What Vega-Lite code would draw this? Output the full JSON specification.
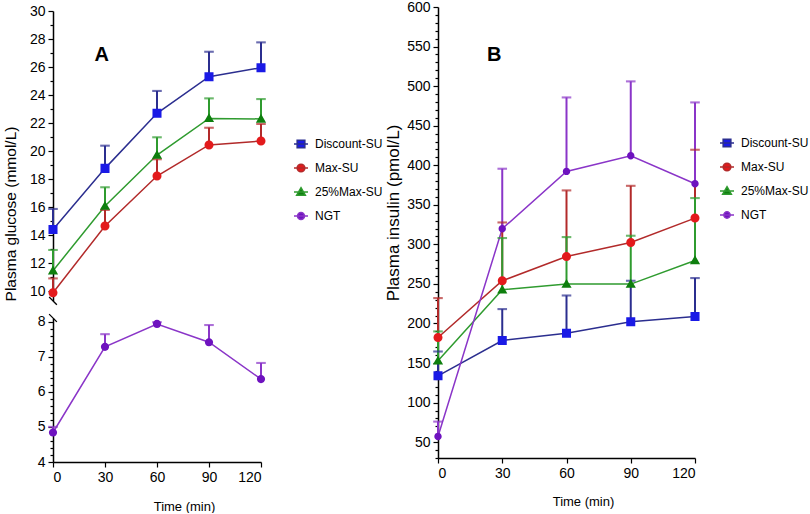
{
  "$schema": "https://vega.github.io/schema/vega-lite/v6.json",
  "padding": {"left": 3, "top": 0, "right": 0, "bottom": 0},
  "bounds": "flush",
  "spacing": 177,
  "background": "white",
  "datasets": {
    "glu": [
      {"g": "Discount-SU", "t": 0, "m": 14.4, "u": 15.86},
      {"g": "Discount-SU", "t": 30, "m": 18.76, "u": 20.38},
      {"g": "Discount-SU", "t": 60, "m": 22.69, "u": 24.29},
      {"g": "Discount-SU", "t": 90, "m": 25.31, "u": 27.09},
      {"g": "Discount-SU", "t": 120, "m": 25.95, "u": 27.76},
      {"g": "Max-SU", "t": 0, "m": 9.88, "u": 10.9},
      {"g": "Max-SU", "t": 30, "m": 14.64, "u": 15.79},
      {"g": "Max-SU", "t": 60, "m": 18.21, "u": 19.41},
      {"g": "Max-SU", "t": 90, "m": 20.43, "u": 21.66},
      {"g": "Max-SU", "t": 120, "m": 20.71, "u": 21.93},
      {"g": "25%Max-SU", "t": 0, "m": 11.45, "u": 12.93},
      {"g": "25%Max-SU", "t": 30, "m": 16.07, "u": 17.41},
      {"g": "25%Max-SU", "t": 60, "m": 19.71, "u": 20.98},
      {"g": "25%Max-SU", "t": 90, "m": 22.33, "u": 23.76},
      {"g": "25%Max-SU", "t": 120, "m": 22.29, "u": 23.71},
      {"g": "NGT", "t": 0, "m": 4.84, "u": 5.0},
      {"g": "NGT", "t": 30, "m": 7.28, "u": 7.64},
      {"g": "NGT", "t": 60, "m": 7.93, "u": 7.98},
      {"g": "NGT", "t": 90, "m": 7.41, "u": 7.9},
      {"g": "NGT", "t": 120, "m": 6.36, "u": 6.82}
    ],
    "ins": [
      {"g": "Discount-SU", "t": 0, "m": 133.9, "u": 164.6},
      {"g": "Discount-SU", "t": 30, "m": 178.5, "u": 218.2},
      {"g": "Discount-SU", "t": 60, "m": 187.8, "u": 235.4},
      {"g": "Discount-SU", "t": 90, "m": 202.2, "u": 254},
      {"g": "Discount-SU", "t": 120, "m": 208.9, "u": 257.4},
      {"g": "Max-SU", "t": 0, "m": 182.3, "u": 232.1},
      {"g": "Max-SU", "t": 30, "m": 254, "u": 327.7},
      {"g": "Max-SU", "t": 60, "m": 284.7, "u": 368.2},
      {"g": "Max-SU", "t": 90, "m": 302.4, "u": 374},
      {"g": "Max-SU", "t": 120, "m": 333.2, "u": 419.6},
      {"g": "25%Max-SU", "t": 0, "m": 152.8, "u": 190},
      {"g": "25%Max-SU", "t": 30, "m": 242.6, "u": 308},
      {"g": "25%Max-SU", "t": 60, "m": 249.8, "u": 309.2},
      {"g": "25%Max-SU", "t": 90, "m": 249.8, "u": 310.9},
      {"g": "25%Max-SU", "t": 120, "m": 279.7, "u": 358.5},
      {"g": "NGT", "t": 0, "m": 57.1, "u": 76},
      {"g": "NGT", "t": 30, "m": 319.7, "u": 395.6},
      {"g": "NGT", "t": 60, "m": 392.2, "u": 485.7},
      {"g": "NGT", "t": 90, "m": 412, "u": 506},
      {"g": "NGT", "t": 120, "m": 376.6, "u": 479.4}
    ]
  },
  "resolve": {"scale": {"color": "independent", "shape": "independent", "stroke": "independent"}, "legend": {"color": "independent", "shape": "independent", "stroke": "independent"}},
  "hconcat": [
    {
      "width": 208,
      "height": 455,
      "resolve": {"scale": {"y": "independent"}},
      "layer": [
        {
          "data": {"name": "glu"},
          "transform": [{"filter": "datum.g !== 'NGT'"}],
          "resolve": {"axis": {"y": "independent"}},
          "layer": [
            {
              "mark": {"type": "line", "strokeWidth": 1.5},
              "encoding": {
                "x": {"field": "t", "type": "quantitative", "scale": {"domain": [0, 120], "nice": false, "zero": false}, "axis": {"values": [0, 30, 60, 90, 120], "title": "Time (min)", "titleX": 131, "titleY": 44, "titleBaseline": "middle", "titleFontSize": 13}},
                "y": {"field": "m", "type": "quantitative", "scale": {"domain": [9.3, 30], "range": [293.8, 4], "nice": false, "zero": false}, "axis": {"orient": "left", "values": [10, 12, 14, 16, 18, 20, 22, 24, 26, 28, 30], "format": "d", "title": "Plasma glucose (mmol/L)", "titleX": -43, "titleY": 206.5, "titleAngle": 270, "titleBaseline": "middle", "titleFontSize": 15.5}},
                "stroke": {"field": "g", "type": "nominal", "scale": {"domain": ["Discount-SU", "Max-SU", "25%Max-SU", "NGT"], "range": ["#2b2e8f", "#b22a2a", "#2f9b2f", "#8a35c8"]}}
              }
            },
            {
              "mark": {"type": "rule", "strokeWidth": 2},
              "encoding": {
                "x": {"field": "t", "type": "quantitative"},
                "y": {"field": "m", "type": "quantitative", "axis": {"orient": "left", "values": [11, 13, 15, 17, 19, 21, 23, 25, 27, 29], "labels": false, "domain": false, "tickSize": 3, "title": null}},
                "y2": {"field": "u"},
                "stroke": {"field": "g", "type": "nominal"}
              }
            },
            {
              "mark": {"type": "tick", "orient": "horizontal", "size": 8, "thickness": 0.5, "filled": false, "strokeWidth": 1.6},
              "encoding": {
                "x": {"field": "t", "type": "quantitative"},
                "y": {"field": "u", "type": "quantitative", "axis": null},
                "stroke": {"field": "g", "type": "nominal"}
              }
            },
            {
              "mark": {"type": "point", "filled": true, "opacity": 1, "size": 270},
              "encoding": {
                "x": {"field": "t", "type": "quantitative"},
                "y": {"field": "m", "type": "quantitative", "axis": null},
                "color": {"field": "g", "type": "nominal", "scale": {"domain": ["Discount-SU", "Max-SU", "25%Max-SU", "NGT"], "range": ["#1a1ae6", "#e31a1c", "#0e7f0e", "#6e12bf"]}, "legend": {"orient": "none", "legendX": 240, "legendY": 129, "title": null, "symbolSize": 196, "symbolStrokeWidth": 1.5, "symbolOpacity": 1, "labelFontSize": 12, "labelOffset": 6, "rowPadding": 9, "padding": 0, "labelColor": "#000"}},
                "shape": {"field": "g", "type": "nominal", "scale": {"domain": ["Discount-SU", "Max-SU", "25%Max-SU", "NGT"], "range": ["M-1,0H1M-0.55,-0.55H0.55V0.55H-0.55Z", "M-1,0H1M0.55,0A0.55,0.55,0,1,1,-0.55,0A0.55,0.55,0,1,1,0.55,0Z", "M-1,0H1M0,-0.62L0.62,0.45H-0.62Z", "M-1,0H1M0.5,0A0.5,0.5,0,1,1,-0.5,0A0.5,0.5,0,1,1,0.5,0Z"]}, "legend": {"orient": "none", "legendX": 240, "legendY": 129, "title": null, "symbolSize": 196, "symbolStrokeWidth": 1.5, "symbolOpacity": 1, "labelFontSize": 12, "labelOffset": 6, "rowPadding": 9, "padding": 0, "labelColor": "#000"}}
              }
            },
            {
              "data": {"values": [{"label": "A"}]},
              "mark": {"type": "text", "fontSize": 20, "fontWeight": "bold", "font": "Liberation Sans", "color": "#000"},
              "encoding": {
                "x": {"datum": 28.1, "type": "quantitative"},
                "y": {"datum": 26.86, "type": "quantitative", "axis": null},
                "text": {"field": "label"}
              }
            },
            {
              "data": {"values": [{"k": "break"}]},
              "mark": {"type": "point", "shape": "M-1,-1L1,1", "filled": false, "color": "#000", "size": 60, "strokeWidth": 1.3, "opacity": 1},
              "encoding": {
                "x": {"datum": 0, "type": "quantitative"},
                "y": {"datum": 9.3, "type": "quantitative", "axis": null}
              }
            }
          ]
        },
        {
          "data": {"name": "glu"},
          "transform": [{"filter": "datum.g === 'NGT'"}],
          "resolve": {"axis": {"y": "independent"}},
          "layer": [
            {
              "mark": {"type": "line", "strokeWidth": 1.5},
              "encoding": {
                "x": {"field": "t", "type": "quantitative", "scale": {"domain": [0, 120], "nice": false, "zero": false}, "axis": {"values": [0, 30, 60, 90, 120], "title": "Time (min)", "titleX": 131, "titleY": 44, "titleBaseline": "middle", "titleFontSize": 13}},
                "y": {"field": "m", "type": "quantitative", "scale": {"domain": [4, 8.1], "range": [455, 311], "nice": false, "zero": false}, "axis": {"orient": "left", "values": [4, 5, 6, 7, 8], "format": "d", "title": null}},
                "stroke": {"field": "g", "type": "nominal"}
              }
            },
            {
              "mark": {"type": "rule", "strokeWidth": 2},
              "encoding": {
                "x": {"field": "t", "type": "quantitative"},
                "y": {"field": "m", "type": "quantitative", "axis": {"orient": "left", "values": [4.2, 4.4, 4.6, 4.8, 5.2, 5.4, 5.6, 5.8, 6.2, 6.4, 6.6, 6.8, 7.2, 7.4, 7.6, 7.8], "labels": false, "domain": false, "tickSize": 3, "title": null}},
                "y2": {"field": "u"},
                "stroke": {"field": "g", "type": "nominal"}
              }
            },
            {
              "mark": {"type": "tick", "orient": "horizontal", "size": 8, "thickness": 0.5, "filled": false, "strokeWidth": 1.6},
              "encoding": {
                "x": {"field": "t", "type": "quantitative"},
                "y": {"field": "u", "type": "quantitative", "axis": null},
                "stroke": {"field": "g", "type": "nominal"}
              }
            },
            {
              "mark": {"type": "point", "filled": true, "opacity": 1, "size": 270},
              "encoding": {
                "x": {"field": "t", "type": "quantitative"},
                "y": {"field": "m", "type": "quantitative", "axis": null},
                "color": {"field": "g", "type": "nominal", "legend": {"orient": "none", "legendX": 240, "legendY": 129, "title": null, "symbolSize": 196, "symbolStrokeWidth": 1.5, "symbolOpacity": 1, "labelFontSize": 12, "labelOffset": 6, "rowPadding": 9, "padding": 0, "labelColor": "#000"}},
                "shape": {"field": "g", "type": "nominal", "legend": {"orient": "none", "legendX": 240, "legendY": 129, "title": null, "symbolSize": 196, "symbolStrokeWidth": 1.5, "symbolOpacity": 1, "labelFontSize": 12, "labelOffset": 6, "rowPadding": 9, "padding": 0, "labelColor": "#000"}}
              }
            },
            {
              "data": {"values": [{"k": "break"}]},
              "mark": {"type": "point", "shape": "M-1,-1L1,1", "filled": false, "color": "#000", "size": 60, "strokeWidth": 1.3, "opacity": 1},
              "encoding": {
                "x": {"datum": 0, "type": "quantitative"},
                "y": {"datum": 8.1, "type": "quantitative", "axis": null}
              }
            }
          ]
        }
      ]
    },
    {
      "width": 257,
      "height": 451,
      "data": {"name": "ins"},
      "resolve": {"axis": {"y": "independent"}},
      "layer": [
        {
          "mark": {"type": "line", "strokeWidth": 1.5},
          "encoding": {
            "x": {"field": "t", "type": "quantitative", "scale": {"domain": [0, 120], "nice": false, "zero": false}, "axis": {"values": [0, 30, 60, 90, 120], "title": "Time (min)", "titleX": 145, "titleY": 43, "titleBaseline": "middle", "titleFontSize": 13}},
            "y": {"field": "m", "type": "quantitative", "scale": {"domain": [30, 600], "nice": false, "zero": false}, "axis": {"orient": "left", "values": [50, 100, 150, 200, 250, 300, 350, 400, 450, 500, 550, 600], "format": "d", "title": "Plasma insulin (pmol/L)", "titleX": -44.5, "titleY": 205.5, "titleAngle": 270, "titleBaseline": "middle", "titleFontSize": 17}},
            "stroke": {"field": "g", "type": "nominal", "scale": {"domain": ["Discount-SU", "Max-SU", "25%Max-SU", "NGT"], "range": ["#2b2e8f", "#b22a2a", "#2f9b2f", "#8a35c8"]}}
          }
        },
        {
          "mark": {"type": "rule", "strokeWidth": 2},
          "encoding": {
            "x": {"field": "t", "type": "quantitative"},
            "y": {"field": "m", "type": "quantitative", "axis": {"orient": "left", "values": [30, 40, 60, 70, 80, 90, 110, 120, 130, 140, 160, 170, 180, 190, 210, 220, 230, 240, 260, 270, 280, 290, 310, 320, 330, 340, 360, 370, 380, 390, 410, 420, 430, 440, 460, 470, 480, 490, 510, 520, 530, 540, 560, 570, 580, 590], "labels": false, "domain": false, "tickSize": 3, "title": null}},
            "y2": {"field": "u"},
            "stroke": {"field": "g", "type": "nominal"}
          }
        },
        {
          "mark": {"type": "tick", "orient": "horizontal", "size": 8, "thickness": 0.5, "filled": false, "strokeWidth": 1.6},
          "encoding": {
            "x": {"field": "t", "type": "quantitative"},
            "y": {"field": "u", "type": "quantitative", "axis": null},
            "stroke": {"field": "g", "type": "nominal"}
          }
        },
        {
          "mark": {"type": "point", "filled": true, "opacity": 1, "size": 270},
          "encoding": {
            "x": {"field": "t", "type": "quantitative"},
            "y": {"field": "m", "type": "quantitative", "axis": null},
            "color": {"field": "g", "type": "nominal", "scale": {"domain": ["Discount-SU", "Max-SU", "25%Max-SU", "NGT"], "range": ["#1a1ae6", "#e31a1c", "#0e7f0e", "#6e12bf"]}, "legend": {"orient": "none", "legendX": 281, "legendY": 128, "title": null, "symbolSize": 196, "symbolStrokeWidth": 1.5, "symbolOpacity": 1, "labelFontSize": 12, "labelOffset": 6, "rowPadding": 9, "padding": 0, "labelColor": "#000"}},
            "shape": {"field": "g", "type": "nominal", "scale": {"domain": ["Discount-SU", "Max-SU", "25%Max-SU", "NGT"], "range": ["M-1,0H1M-0.55,-0.55H0.55V0.55H-0.55Z", "M-1,0H1M0.55,0A0.55,0.55,0,1,1,-0.55,0A0.55,0.55,0,1,1,0.55,0Z", "M-1,0H1M0,-0.62L0.62,0.45H-0.62Z", "M-1,0H1M0.45,0A0.45,0.45,0,1,1,-0.45,0A0.45,0.45,0,1,1,0.45,0Z"]}, "legend": {"orient": "none", "legendX": 281, "legendY": 128, "title": null, "symbolSize": 196, "symbolStrokeWidth": 1.5, "symbolOpacity": 1, "labelFontSize": 12, "labelOffset": 6, "rowPadding": 9, "padding": 0, "labelColor": "#000"}}
          }
        },
        {
          "data": {"values": [{"label": "B"}]},
          "mark": {"type": "text", "fontSize": 20, "fontWeight": "bold", "font": "Liberation Sans", "color": "#000"},
          "encoding": {
            "x": {"datum": 26.3, "type": "quantitative"},
            "y": {"datum": 539.7, "type": "quantitative", "axis": null},
            "text": {"field": "label"}
          }
        }
      ]
    }
  ],
  "config": {
    "view": {"stroke": null},
    "font": "Liberation Sans",
    "axis": {
      "grid": false,
      "labelOverlap": false,
      "domainColor": "#000",
      "tickColor": "#000",
      "labelColor": "#000",
      "titleColor": "#000",
      "labelFont": "Liberation Sans",
      "titleFont": "Liberation Sans",
      "labelFontSize": 14,
      "titleFontWeight": "normal",
      "domainWidth": 1.5,
      "tickWidth": 1.2,
      "tickSize": 5,
      "labelPadding": 3
    },
    "legend": {"labelFont": "Liberation Sans", "symbolStrokeWidth": 1.5, "symbolOpacity": 1}
  }
}
